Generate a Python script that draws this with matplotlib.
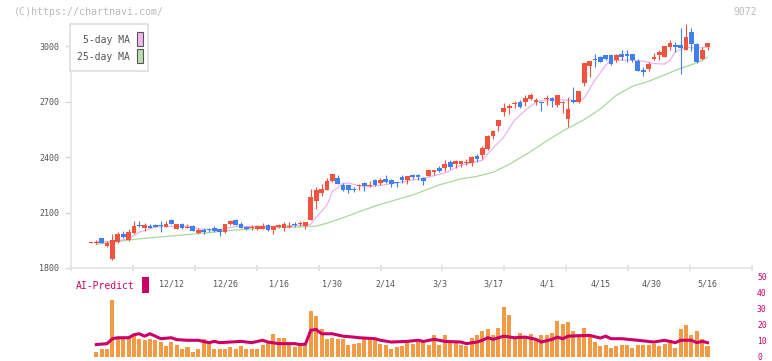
import numpy as np
import matplotlib
matplotlib.use("Agg")
import matplotlib.pyplot as plt
from matplotlib.patches import Rectangle

W, H = 772, 361

# daily candles (price, yen)
opens = [1937, 1935, 1960, 1921, 1847, 1940, 1984, 1950, 1991, 2031,
         2014, 2025, 2031, 2031, 2021, 2058, 2013, 2038, 2018, 2025,
         1991, 2004, 2009, 2018, 2009, 1994, 2036, 2058, 2036, 2021,
         2014, 2009, 2009, 2031, 2004, 2021, 2014, 2021, 2036, 2040,
         2025, 2058, 2162, 2208, 2220, 2271, 2289, 2247, 2247, 2229,
         2246, 2262, 2246, 2274, 2260, 2284, 2278, 2265, 2292, 2274,
         2305, 2305, 2287, 2298, 2319, 2341, 2343, 2373, 2361, 2361,
         2370, 2368, 2404, 2414, 2446, 2514, 2568, 2644, 2663, 2686,
         2698, 2698, 2713, 2698, 2698, 2713, 2720, 2681, 2693, 2605,
         2708, 2698, 2801, 2893, 2930, 2942, 2951, 2953, 2923, 2957,
         2957, 2957, 2920, 2872, 2877, 2931, 2950, 2944, 2995, 3007,
         3007, 2980, 3076, 3011, 2931, 2993]
closes = [1938, 1940, 1935, 1935, 1950, 1984, 1967, 1993, 2025, 2025,
          2031, 2018, 2021, 2025, 2038, 2038, 2038, 2016, 2021, 2000,
          2004, 1994, 2005, 2000, 1994, 2036, 2054, 2031, 2014, 2013,
          2021, 2025, 2025, 2004, 2025, 2034, 2036, 2027, 2032, 2043,
          2047, 2184, 2220, 2226, 2269, 2307, 2256, 2220, 2220, 2220,
          2251, 2244, 2251, 2251, 2278, 2265, 2253, 2258, 2274, 2296,
          2292, 2292, 2269, 2329, 2329, 2323, 2361, 2346, 2377, 2377,
          2373, 2401, 2392, 2449, 2514, 2540, 2599, 2666, 2675, 2693,
          2671, 2720, 2735, 2708, 2690, 2720, 2702, 2735, 2698, 2659,
          2698, 2756, 2910, 2919, 2926, 2915, 2933, 2903, 2950, 2944,
          2947, 2926, 2866, 2858, 2903, 2944, 2966, 3002, 3016, 2998,
          2989, 3049, 3011, 2912, 2980, 3016]
highs = [1939, 1950, 1962, 1946, 1986, 1994, 2000, 2013, 2052, 2052,
         2043, 2040, 2040, 2052, 2052, 2063, 2038, 2043, 2040, 2031,
         2014, 2014, 2018, 2025, 2009, 2036, 2062, 2067, 2047, 2025,
         2031, 2031, 2042, 2036, 2025, 2040, 2051, 2051, 2047, 2054,
         2047, 2226, 2238, 2253, 2289, 2311, 2301, 2260, 2247, 2238,
         2256, 2265, 2271, 2280, 2287, 2301, 2284, 2265, 2301, 2298,
         2311, 2311, 2292, 2331, 2331, 2350, 2383, 2383, 2383, 2377,
         2388, 2404, 2415, 2459, 2522, 2545, 2603, 2690, 2686, 2704,
         2708, 2738, 2747, 2720, 2698, 2735, 2725, 2735, 2704, 2725,
         2780, 2756, 2910, 2919, 2957, 2946, 2953, 2955, 2958, 2977,
         2977, 2957, 2931, 2885, 2912, 2962, 2980, 3002, 3031, 3022,
         3097, 3121, 3097, 3016, 2998, 3016]
lows = [1933, 1932, 1933, 1913, 1841, 1935, 1960, 1946, 1986, 2021,
        1998, 2014, 2020, 1994, 2021, 2038, 2009, 2013, 2014, 1998,
        1986, 1986, 1994, 1994, 1973, 1991, 2031, 2031, 2014, 2005,
        2005, 2005, 2009, 2000, 1986, 2014, 2000, 2014, 2021, 2025,
        2011, 2058, 2121, 2189, 2220, 2265, 2253, 2215, 2208, 2211,
        2224, 2216, 2238, 2244, 2249, 2260, 2238, 2238, 2261, 2253,
        2284, 2274, 2247, 2296, 2301, 2319, 2323, 2338, 2341, 2346,
        2356, 2350, 2373, 2392, 2441, 2500, 2540, 2623, 2632, 2663,
        2663, 2675, 2708, 2684, 2650, 2684, 2671, 2671, 2639, 2563,
        2693, 2693, 2785, 2834, 2888, 2912, 2924, 2900, 2917, 2926,
        2917, 2917, 2866, 2841, 2868, 2926, 2926, 2940, 2978, 2971,
        2848, 2977, 2975, 2908, 2923, 2980]

# volume bars start at the 2nd candle
volume = [3.1, 4.5, 5.0, 35.6, 11.6, 11.2, 12.2, 12.8, 10.8, 10.6,
          10.8, 10.1, 9.1, 6.4, 9.1, 7.5, 5.0, 6.0, 2.9, 4.5,
          11.2, 8.1, 5.0, 5.0, 5.0, 6.0, 4.5, 6.6, 4.5, 4.5,
          4.5, 7.5, 8.7, 14.3, 11.8, 11.8, 7.5, 6.0, 7.5, 7.5,
          28.8, 25.7, 17.0, 10.8, 11.8, 11.2, 10.8, 7.5, 8.1, 8.7,
          11.8, 12.2, 10.1, 8.1, 7.0, 5.0, 5.8, 6.6, 9.1, 8.1,
          9.1, 9.1, 7.5, 13.3, 7.5, 13.7, 9.1, 9.1, 7.5, 6.6,
          11.8, 13.7, 15.8, 17.4, 13.7, 18.0, 31.3, 26.1, 12.2, 14.9,
          11.8, 14.3, 11.2, 13.7, 13.7, 14.9, 22.6, 20.5, 22.0, 15.8,
          14.3, 18.0, 12.2, 9.1, 6.4, 7.5, 5.4, 6.4, 7.5, 7.5,
          5.4, 7.5, 7.1, 7.5, 8.1, 6.6, 8.1, 10.2, 5.6, 17.4,
          19.9, 13.7, 15.8, 11.2, 6.6]

# moving averages (candle index, price)
ma5_x = [1, 4, 5, 7, 9, 12, 14, 18, 20, 23, 25, 27, 35, 39, 41, 42, 44, 45,
         47, 48, 51, 54, 58, 63, 66, 69, 73, 74, 77, 79, 81, 83, 85, 89, 91,
         92, 94, 96, 97, 101, 103, 105, 107, 108, 109, 111, 113, 115]
ma5 = [1942, 1944, 1946, 1959, 1994, 2021, 2025, 2025, 2013, 2004, 2013, 2025,
       2025, 2031, 2036, 2075, 2139, 2211, 2257, 2260, 2238, 2247, 2265, 2292,
       2314, 2356, 2383, 2419, 2509, 2599, 2653, 2698, 2711, 2708, 2705, 2720,
       2816, 2897, 2924, 2924, 2919, 2906, 2903, 2924, 2969, 2996, 2988, 2996]
ma25_x = [1, 8, 14, 20, 26, 33, 39, 42, 44, 47, 50, 53, 57, 60, 65, 69, 72,
          75, 78, 82, 85, 88, 92, 95, 98, 101, 104, 107, 110, 113, 115]
ma25 = [1928, 1955, 1971, 1986, 2003, 2018, 2022, 2027, 2042, 2072, 2104, 2135,
        2170, 2195, 2250, 2282, 2296, 2318, 2360, 2430, 2487, 2541, 2603, 2660,
        2735, 2783, 2810, 2845, 2880, 2910, 2939]

# AI-Predict line (candle index, value on right scale)
ai_x = [1, 3, 4, 5, 7, 8, 9, 10, 11, 12, 13, 15, 16, 18, 20, 22, 23, 24, 26,
        28, 30, 32, 33, 35, 38, 39, 40, 41, 42, 43, 45, 47, 49, 50, 53, 54, 56,
        59, 61, 62, 64, 66, 69, 70, 72, 73, 74, 75, 77, 79, 81, 83, 84, 86, 87,
        88, 89, 93, 95, 96, 97, 99, 102, 105, 107, 109, 110, 112, 113, 114, 115]
ai = [7.5, 8.1, 11.2, 11.8, 11.8, 13.7, 14.3, 12.8, 14.3, 12.8, 11.2, 11.8,
      10.6, 10.2, 10.2, 8.7, 9.5, 8.7, 9.1, 9.5, 8.7, 10.2, 9.1, 8.1, 8.1, 7.5,
      7.8, 16.5, 17.0, 14.3, 14.3, 12.8, 12.2, 11.8, 11.2, 10.2, 9.1, 9.5, 10.2,
      9.5, 10.8, 9.5, 9.1, 8.1, 9.1, 10.2, 11.8, 10.8, 12.8, 11.8, 12.2, 10.8,
      9.1, 10.8, 12.2, 11.2, 12.8, 13.3, 11.6, 12.8, 11.2, 11.2, 10.2, 9.1,
      10.2, 8.7, 10.2, 10.2, 8.7, 9.5, 8.7]

date_labels = ['12/12', '12/26', '1/16', '1/30', '2/14', '3/3', '3/17',
               '4/1', '4/15', '4/30', '5/16']
date_pos = [15, 25, 35, 45, 55, 65, 75, 85, 95, 104.5, 115]

RED = '#f2533f'
BLUE = '#3f7ff0'
MAGENTA = '#cc0066'
plt.rcParams['font.family'] = ['DejaVu Sans Mono']

fig = plt.figure(figsize=(W / 100, H / 100), dpi=100)
xlim = (-3.73, 123.3)

# price panel
ax = fig.add_axes([71 / W, 1 - 268 / H, (752 - 71) / W, (268 - 24) / H])
x = np.arange(len(opens))
o = np.array(opens)
c = np.array(closes)
cols = np.where(c >= o, RED, BLUE)
ax.plot(ma25_x, ma25, color='#a9d99c', lw=0.9, zorder=1)
ax.plot(ma5_x, ma5, color='#ebb3ef', lw=0.9, zorder=1)
ax.vlines(x, lows, highs, colors=cols, lw=0.8, zorder=2)
ax.bar(x, np.maximum(np.abs(c - o), 5), bottom=np.minimum(o, c), width=0.88,
       color=cols, lw=0, zorder=3)

ax.set_xlim(xlim)
ax.set_ylim(1800, 3120)
ax.set_yticks([1800, 2100, 2400, 2700, 3000])
ax.tick_params(axis='y', length=4.3, width=1, color='#d8d8d8', pad=4.3,
               labelsize=6, labelcolor='#555555')
ax.set_xticks(np.linspace(xlim[0], xlim[1], 12))
ax.set_xticklabels([])
ax.tick_params(axis='x', which='major', direction='inout', length=4,
               width=1.1, color='#dddddd')
ax.set_xticks(date_pos, date_labels, minor=True)
ax.tick_params(axis='x', which='minor', length=0, pad=8.5, labelsize=6,
               labelcolor='#555555')
for s in ['top', 'right']:
    ax.spines[s].set_visible(False)
for s in ['left', 'bottom']:
    ax.spines[s].set_color('#e2e2e2')
    ax.spines[s].set_linewidth(1.1)

# volume / AI-Predict panel
ax2 = fig.add_axes([71 / W, 1 - 356.5 / H, (752 - 71) / W, (356.5 - 277) / H])
ax2.patch.set_visible(False)
ax2.bar(np.arange(1, len(volume) + 1), volume, width=0.75, color='#f39a45',
        lw=0)
ax2.plot(ai_x, ai, color=MAGENTA, lw=2.2)
ax2.set_xlim(xlim)
ax2.set_ylim(0, 50)
ax2.set_xticks([])
ax2.yaxis.tick_right()
ax2.set_yticks([0, 10, 20, 30, 40, 50])
ax2.tick_params(axis='y', length=0, pad=3.6, labelsize=5.8,
                labelcolor=MAGENTA)
for s in ax2.spines.values():
    s.set_visible(False)

# header texts
fig.text(14 / W, 1 - 12 / H, '(C)https://chartnavi.com/', color='#bbbbbb',
         fontsize=7.2, ha='left', va='center')
fig.text(757 / W, 1 - 12 / H, '9072', color='#bbbbbb', fontsize=7,
         ha='right', va='center')

# legend box
fig.patches.append(Rectangle((70 / W, 1 - 71 / H), 78 / W, 47 / H,
                             transform=fig.transFigure, fc='white',
                             ec='#dddddd', lw=1.1, zorder=5))
fig.text(130 / W, 1 - 40 / H, '5-day MA', color='#555555', fontsize=7,
         ha='right', va='center', zorder=6)
fig.text(130 / W, 1 - 57 / H, '25-day MA', color='#555555', fontsize=7,
         ha='right', va='center', zorder=6)
fig.patches.append(Rectangle((136.5 / W, 1 - 46 / H), 6 / W, 14 / H,
                             transform=fig.transFigure, fc='#f0b8f0',
                             ec='#555555', lw=0.8, zorder=6))
fig.patches.append(Rectangle((136.5 / W, 1 - 63 / H), 6 / W, 14 / H,
                             transform=fig.transFigure, fc='#b8dfb0',
                             ec='#555555', lw=0.8, zorder=6))

# AI-Predict label
fig.text(76 / W, 1 - 286 / H, 'AI-Predict', color=MAGENTA, fontsize=7,
         ha='left', va='center')
fig.patches.append(Rectangle((142 / W, 1 - 293 / H), 7 / W, 16 / H,
                             transform=fig.transFigure, fc=MAGENTA,
                             lw=0, zorder=6))

fig.savefig('out.png', dpi=100)
